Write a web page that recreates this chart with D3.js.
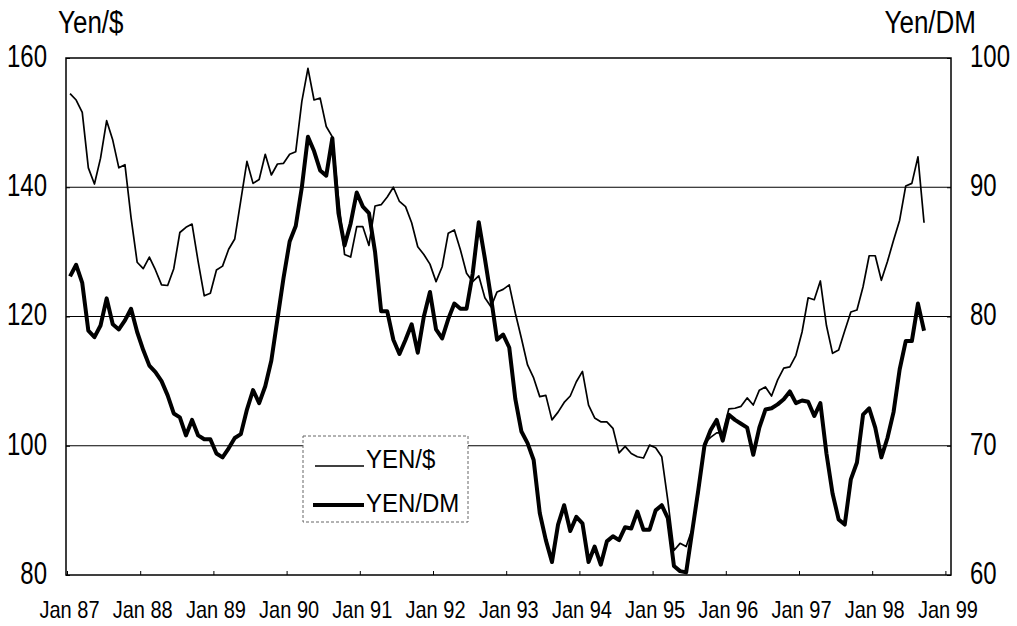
<!DOCTYPE html>
<html>
<head>
<meta charset="utf-8">
<script src="https://cdn.jsdelivr.net/npm/d3@7/dist/d3.min.js"></script>
<style>
  html, body { margin: 0; padding: 0; background: #fff; }
  svg { display: block; }
  text { font-family: "Liberation Sans", Arial, sans-serif; fill: #000; }
</style>
</head>
<body>
<svg id="chart" width="1017" height="626"></svg>
<script>
// ---- data (monthly, Jan 1987 - Sep 1998) ----
const startYear = 1987;
const yenUsd = [
  154.5, 153.5, 151.6, 143.0, 140.5, 144.5, 150.3, 147.3, 143.0, 143.5, 135.3, 128.4,
  127.4, 129.2, 127.2, 124.9, 124.8, 127.4, 133.0, 133.8, 134.3, 128.5, 123.2, 123.6,
  127.2, 127.8, 130.4, 132.0, 138.0, 144.0, 140.6, 141.2, 145.1, 141.9, 143.6, 143.7,
  145.1, 145.5, 153.3, 158.4, 153.5, 153.8, 149.4, 147.8, 138.4, 129.6, 129.2, 133.9,
  133.9, 131.0, 137.1, 137.3, 138.5, 140.0, 137.8, 137.0, 134.5, 130.8, 129.6, 128.1,
  125.4, 127.7, 132.9, 133.4, 130.3, 126.7, 125.4, 126.3, 122.9, 121.5, 123.8, 124.2,
  124.9, 120.5, 116.6, 112.5, 110.5, 107.6, 107.8, 104.0, 105.2, 106.7, 107.7, 109.9,
  111.5, 106.3, 104.3, 103.7, 103.7, 102.7, 98.9, 99.9, 98.8, 98.3, 98.1, 100.1,
  99.7, 98.3, 91.5, 83.8, 84.9, 84.4, 87.1, 92.5, 100.4, 101.3, 102.0, 102.0,
  105.7, 105.8, 106.1, 107.4, 106.3, 108.6, 109.1, 107.7, 110.2, 112.0, 112.2, 114.0,
  117.6, 122.9, 122.6, 125.5, 118.6, 114.3, 114.8, 117.8, 120.7, 121.0, 124.6, 129.4,
  129.4, 125.6, 128.5, 131.8, 134.9, 140.2, 140.6, 144.7, 134.5
];
const yenDm = [
  83.1, 84.0, 82.6, 78.9, 78.4, 79.3, 81.4, 79.4, 79.0, 79.7, 80.6, 78.8,
  77.4, 76.2, 75.7, 75.0, 73.9, 72.5, 72.2, 70.8, 72.0, 70.8, 70.5, 70.5,
  69.4, 69.1, 69.8, 70.6, 70.9, 72.8, 74.3, 73.3, 74.6, 76.6, 79.8, 83.0,
  85.8, 87.0, 90.0, 93.9, 92.8, 91.3, 90.9, 93.8, 88.0, 85.5, 87.2, 89.6,
  88.5, 88.0, 85.0, 80.4, 80.4, 78.2, 77.1, 78.2, 79.4, 77.2, 80.0, 81.9,
  79.0, 78.3, 79.8, 81.0, 80.6, 80.6, 83.3, 87.3, 84.5, 81.5, 78.2, 78.6,
  77.6, 73.6, 71.1, 70.2, 68.9, 64.8, 62.7, 61.0, 63.9, 65.4, 63.4, 64.5,
  64.0, 61.0, 62.2, 60.8, 62.6, 63.0, 62.7, 63.7, 63.6, 64.9, 63.5, 63.5,
  65.0, 65.4, 64.4, 60.7, 60.3, 60.2, 63.4, 66.6, 70.0, 71.2, 72.0, 70.4,
  72.4, 72.0, 71.7, 71.4, 69.3, 71.4, 72.8, 72.9, 73.2, 73.6, 74.2, 73.3,
  73.5, 73.4, 72.3, 73.3, 69.4, 66.3, 64.3, 63.9, 67.4, 68.7, 72.4, 72.9,
  71.4, 69.1, 70.6, 72.6, 75.9, 78.1, 78.1, 81.0, 78.9
];
const xTickLabels = ["Jan 87","Jan 88","Jan 89","Jan 90","Jan 91","Jan 92","Jan 93",
                     "Jan 94","Jan 95","Jan 96","Jan 97","Jan 98","Jan 99"];
const leftTicks = [80, 100, 120, 140, 160];
const rightTicks = [60, 70, 80, 90, 100];
const seriesNames = ["YEN/$", "YEN/DM"];
const axisTitles = ["Yen/$", "Yen/DM"];

// ---- layout ----
const svg = d3.select("#chart");
const L = 66, R = 951, T = 58, B = 575;

const x = d3.scaleLinear().domain([0, 145]).range([67, 951.5]);   // months since Jan 87
const yL = d3.scaleLinear().domain([80, 160]).range([B, T]);
const yR = d3.scaleLinear().domain([60, 100]).range([B, T]);

// gridlines
svg.append("g").selectAll("line")
  .data([100, 120, 140]).join("line")
  .attr("x1", L).attr("x2", R)
  .attr("y1", d => yL(d)).attr("y2", d => yL(d))
  .attr("stroke", "#000").attr("stroke-width", 1.1);

// plot frame
svg.append("rect")
  .attr("x", L).attr("y", T).attr("width", R - L).attr("height", B - T)
  .attr("fill", "none").attr("stroke", "#000").attr("stroke-width", 1.5);

// left axis
const gL = svg.append("g").attr("transform", `translate(${L},0)`)
  .call(d3.axisLeft(yL).tickValues(leftTicks).tickSize(-4).tickPadding(19));
gL.select(".domain").remove();
gL.selectAll("line").attr("stroke", "#000");
gL.selectAll("text")
  .style("font-size", "24px")
  .attr("transform", "scale(1,1.3)")
  .attr("dy", "0.27em");

// right axis
const gR = svg.append("g").attr("transform", `translate(${R},0)`)
  .call(d3.axisRight(yR).tickValues(rightTicks).tickSize(-4).tickPadding(19));
gR.select(".domain").remove();
gR.selectAll("line").attr("stroke", "#000");
gR.selectAll("text")
  .style("font-size", "24px")
  .attr("transform", "scale(1,1.3)")
  .attr("dy", "0.27em");

// bottom axis (January ticks)
const janIdx = xTickLabels.map((d, i) => i * 12);
const gB = svg.append("g").attr("transform", `translate(0,${B})`)
  .call(d3.axisBottom(x).tickValues(janIdx).tickSize(-4)
        .tickFormat((d, i) => xTickLabels[i]).tickPadding(0));
gB.select(".domain").remove();
gB.selectAll("line").attr("stroke", "#000");
gB.selectAll("text")
  .style("font-size", "20px")
  .attr("y", 0)
  .attr("dy", 0)
  .attr("transform", "translate(2,43) scale(1,1.2)");

// axis titles
svg.append("text").text(axisTitles[0])
  .attr("transform", "translate(58,33) scale(1,1.2)")
  .style("font-size", "26px");
svg.append("text").text(axisTitles[1])
  .attr("text-anchor", "end")
  .attr("transform", "translate(976,33) scale(1,1.2)")
  .style("font-size", "26px");

// lines
const lineUsd = d3.line().x((d, i) => x(i + 0.5)).y(d => yL(d));
const lineDm = d3.line().x((d, i) => x(i + 0.5)).y(d => yR(d));

svg.append("path").datum(yenUsd)
  .attr("d", lineUsd).attr("fill", "none")
  .attr("stroke", "#000").attr("stroke-width", 1.7)
  .attr("stroke-linejoin", "round");
svg.append("path").datum(yenDm)
  .attr("d", lineDm).attr("fill", "none")
  .attr("stroke", "#000").attr("stroke-width", 4)
  .attr("stroke-linejoin", "round");

// legend
const lg = svg.append("g");
lg.append("rect").attr("x", 303).attr("y", 436).attr("width", 165).attr("height", 86)
  .attr("fill", "#fff").attr("stroke", "#666").attr("stroke-width", 1)
  .attr("stroke-dasharray", "3,2");
const legendItems = [
  { name: seriesNames[0], w: 1.7, y: 466, ty: 468, x1: 315 },
  { name: seriesNames[1], w: 4, y: 505, ty: 512, x1: 313 }
];
legendItems.forEach(it => {
  lg.append("line").attr("x1", it.x1).attr("x2", 364)
    .attr("y1", it.y).attr("y2", it.y)
    .attr("stroke", "#000").attr("stroke-width", it.w);
  lg.append("text").text(it.name)
    .attr("transform", `translate(366,${it.ty}) scale(1,1.05)`)
    .style("font-size", "24px");
});
</script>
</body>
</html>
